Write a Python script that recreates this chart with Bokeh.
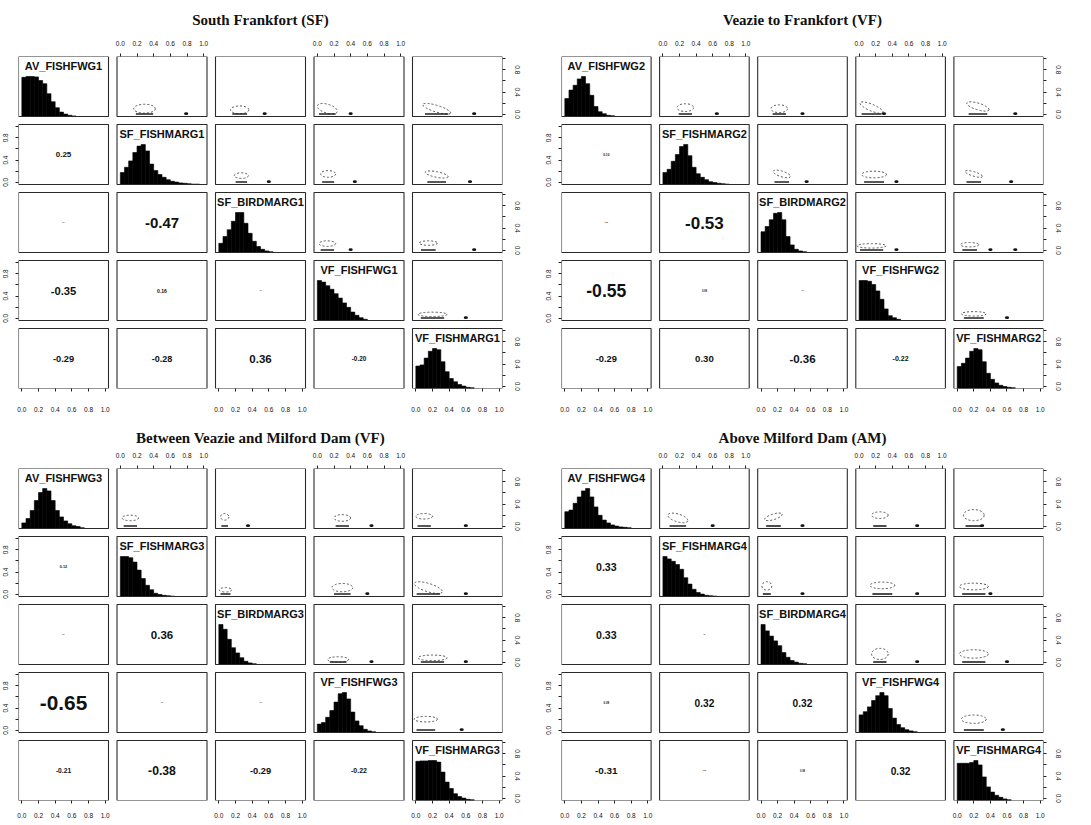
from bokeh.plotting import figure
from bokeh.models import FixedTicker, LinearAxis, Range1d, ColumnDataSource
from bokeh.layouts import column, row
from bokeh.embed import file_html
from bokeh.resources import INLINE
from bokeh.core.properties import value

# ---------------- data ----------------
TICK_VALUES = [0.0, 0.2, 0.4, 0.6, 0.8, 1.0]
TICK_LABELS = ["0.0", "0.2", "0.4", "0.6", "0.8", "1.0"]
# vertical axes: overlapping labels are dropped (as R does)
VTICK_LABELS = ["0.0", "", "0.4", "", "0.8", ""]
BIN_EDGES = [0.00, 0.05, 0.10, 0.15, 0.20, 0.25, 0.30, 0.35, 0.40, 0.45, 0.50,
             0.55, 0.60, 0.65, 0.70, 0.75, 0.80, 0.85, 0.90, 0.95, 1.00]

TITLES = ["South Frankfort (SF)", "Veazie to Frankfort (VF)",
          "Between Veazie and Milford Dam (VF)", "Above Milford Dam (AM)"]

M1_VARS = ["AV_FISHFWG1", "SF_FISHMARG1", "SF_BIRDMARG1", "VF_FISHFWG1", "VF_FISHMARG1"]
M2_VARS = ["AV_FISHFWG2", "SF_FISHMARG2", "SF_BIRDMARG2", "VF_FISHFWG2", "VF_FISHMARG2"]
M3_VARS = ["AV_FISHFWG3", "SF_FISHMARG3", "SF_BIRDMARG3", "VF_FISHFWG3", "VF_FISHMARG3"]
M4_VARS = ["AV_FISHFWG4", "SF_FISHMARG4", "SF_BIRDMARG4", "VF_FISHFWG4", "VF_FISHMARG4"]

# relative histogram heights (max = 1), 20 bins over 0..1
M1_HIST = [
    [0.98, 1.0, 1.0, 0.99, 0.90, 0.82, 0.57, 0.37, 0.22, 0.11, 0.06, 0.03, 0.015, 0, 0, 0, 0, 0, 0, 0],
    [0.30, 0.43, 0.59, 0.80, 0.96, 1.0, 0.84, 0.51, 0.35, 0.25, 0.18, 0.12, 0.08, 0.06, 0.04, 0.03, 0.02, 0.01, 0.01, 0],
    [0.23, 0.40, 0.57, 0.78, 1.0, 1.0, 0.73, 0.48, 0.28, 0.15, 0.08, 0.04, 0.02, 0, 0, 0, 0, 0, 0, 0],
    [1.0, 0.96, 0.87, 0.78, 0.67, 0.56, 0.44, 0.33, 0.21, 0.13, 0.07, 0.03, 0, 0, 0, 0, 0, 0, 0, 0],
    [0.56, 0.59, 0.76, 0.93, 1.0, 0.97, 0.67, 0.42, 0.25, 0.17, 0.10, 0.06, 0.03, 0.02, 0, 0, 0, 0, 0, 0],
]
M2_HIST = [
    [0.45, 0.66, 0.78, 0.94, 1.0, 0.82, 0.53, 0.25, 0.12, 0.07, 0.03, 0.02, 0, 0, 0, 0, 0, 0, 0, 0],
    [0.30, 0.38, 0.58, 0.75, 0.95, 1.0, 0.72, 0.43, 0.27, 0.18, 0.12, 0.07, 0.05, 0.03, 0.02, 0.01, 0, 0, 0, 0],
    [0.52, 0.65, 0.82, 0.98, 1.0, 0.82, 0.40, 0.19, 0.08, 0.04, 0.02, 0, 0, 0, 0, 0, 0, 0, 0, 0],
    [1.0, 1.0, 0.98, 0.90, 0.74, 0.53, 0.29, 0.12, 0.07, 0.03, 0, 0, 0, 0, 0, 0, 0, 0, 0, 0],
    [0.55, 0.63, 0.76, 0.93, 1.0, 0.97, 0.67, 0.38, 0.23, 0.14, 0.08, 0.05, 0.03, 0.02, 0, 0, 0, 0, 0, 0],
]
M3_HIST = [
    [0.14, 0.25, 0.45, 0.70, 0.90, 1.0, 0.94, 0.70, 0.45, 0.29, 0.19, 0.12, 0.07, 0.05, 0.02, 0, 0, 0, 0, 0],
    [1.0, 1.0, 0.97, 0.86, 0.66, 0.45, 0.28, 0.17, 0.08, 0.05, 0.03, 0.02, 0.01, 0, 0, 0, 0, 0, 0, 0],
    [1.0, 0.88, 0.63, 0.42, 0.29, 0.17, 0.08, 0.04, 0.02, 0, 0, 0, 0, 0, 0, 0, 0, 0, 0, 0],
    [0.21, 0.25, 0.38, 0.55, 0.76, 0.97, 1.0, 0.84, 0.51, 0.29, 0.17, 0.08, 0.04, 0.02, 0, 0, 0, 0, 0, 0],
    [0.98, 0.99, 0.99, 1.0, 1.0, 0.96, 0.71, 0.46, 0.30, 0.17, 0.10, 0.06, 0.03, 0.02, 0, 0, 0, 0, 0, 0],
]
M4_HIST = [
    [0.42, 0.46, 0.63, 0.79, 0.94, 1.0, 0.79, 0.54, 0.33, 0.21, 0.14, 0.09, 0.06, 0.04, 0.03, 0.02, 0, 0, 0, 0],
    [1.0, 0.94, 0.88, 0.80, 0.68, 0.47, 0.31, 0.18, 0.10, 0.06, 0.03, 0.02, 0.01, 0, 0, 0, 0, 0, 0, 0],
    [1.0, 0.84, 0.71, 0.59, 0.47, 0.30, 0.18, 0.10, 0.06, 0.03, 0.02, 0, 0, 0, 0, 0, 0, 0, 0, 0],
    [0.44, 0.52, 0.64, 0.80, 0.92, 1.0, 0.92, 0.60, 0.36, 0.20, 0.12, 0.07, 0.04, 0.02, 0, 0, 0, 0, 0, 0],
    [0.93, 0.93, 0.93, 0.95, 1.0, 0.89, 0.59, 0.34, 0.21, 0.13, 0.08, 0.04, 0.02, 0, 0, 0, 0, 0, 0, 0],
]

# correlations in lower panels: (row, col, r)
M1_CORR = [(1, 0, 0.25), (2, 0, 0.04), (2, 1, -0.47), (3, 0, -0.35), (3, 1, 0.16),
           (3, 2, 0.03), (4, 0, -0.29), (4, 1, -0.28), (4, 2, 0.36), (4, 3, -0.20)]
M2_CORR = [(1, 0, 0.10), (2, 0, 0.05), (2, 1, -0.53), (3, 0, -0.55), (3, 1, 0.08),
           (3, 2, 0.02), (4, 0, -0.29), (4, 1, 0.30), (4, 2, -0.36), (4, 3, -0.22)]
M3_CORR = [(1, 0, 0.12), (2, 0, 0.04), (2, 1, 0.36), (3, 0, -0.65), (3, 1, 0.02),
           (3, 2, 0.02), (4, 0, -0.21), (4, 1, -0.38), (4, 2, -0.29), (4, 3, -0.22)]
M4_CORR = [(1, 0, 0.33), (2, 0, 0.33), (2, 1, 0.02), (3, 0, 0.09), (3, 1, 0.32),
           (3, 2, 0.32), (4, 0, -0.31), (4, 1, 0.05), (4, 2, 0.08), (4, 3, 0.32)]

# density contours in upper panels: (row, col, cx, cy, w, h, angle)
M1_CONT = [(0, 1, 0.29, 0.10, 0.26, 0.16, 0), (0, 2, 0.25, 0.08, 0.22, 0.14, 0),
           (0, 3, 0.12, 0.10, 0.25, 0.16, -0.3), (0, 4, 0.25, 0.10, 0.35, 0.12, -0.3),
           (1, 2, 0.27, 0.12, 0.17, 0.10, 0), (1, 3, 0.13, 0.15, 0.18, 0.12, 0),
           (1, 4, 0.25, 0.14, 0.28, 0.10, -0.2), (2, 3, 0.12, 0.12, 0.20, 0.10, 0),
           (2, 4, 0.15, 0.13, 0.22, 0.08, 0), (3, 4, 0.20, 0.07, 0.35, 0.08, 0)]
M2_CONT = [(0, 1, 0.27, 0.12, 0.20, 0.14, 0), (0, 2, 0.22, 0.10, 0.20, 0.14, 0),
           (0, 3, 0.15, 0.12, 0.30, 0.12, -0.4), (0, 4, 0.25, 0.14, 0.28, 0.12, -0.3),
           (1, 2, 0.25, 0.15, 0.22, 0.10, -0.3), (1, 3, 0.18, 0.14, 0.30, 0.12, 0),
           (1, 4, 0.20, 0.15, 0.22, 0.08, -0.3), (2, 3, 0.15, 0.08, 0.35, 0.08, 0),
           (2, 4, 0.15, 0.10, 0.22, 0.08, 0), (3, 4, 0.20, 0.08, 0.30, 0.08, 0)]
M3_CONT = [(0, 1, 0.12, 0.15, 0.20, 0.10, 0), (0, 2, 0.07, 0.17, 0.10, 0.12, 0),
           (0, 3, 0.30, 0.15, 0.20, 0.12, 0), (0, 4, 0.10, 0.18, 0.20, 0.10, 0),
           (1, 2, 0.08, 0.08, 0.15, 0.08, 0), (1, 3, 0.30, 0.12, 0.25, 0.15, 0),
           (1, 4, 0.15, 0.12, 0.35, 0.15, -0.3), (2, 3, 0.25, 0.05, 0.25, 0.10, 0),
           (2, 4, 0.20, 0.08, 0.35, 0.10, 0), (3, 4, 0.12, 0.20, 0.28, 0.10, 0)]
M4_CONT = [(0, 1, 0.18, 0.15, 0.25, 0.14, -0.3), (0, 2, 0.15, 0.17, 0.22, 0.10, 0.3),
           (0, 3, 0.25, 0.20, 0.20, 0.12, 0), (0, 4, 0.20, 0.20, 0.25, 0.20, 0),
           (1, 2, 0.07, 0.15, 0.12, 0.15, 0), (1, 3, 0.28, 0.16, 0.30, 0.12, 0),
           (1, 4, 0.20, 0.14, 0.35, 0.12, 0), (2, 3, 0.25, 0.15, 0.20, 0.20, 0),
           (2, 4, 0.20, 0.15, 0.35, 0.15, 0), (3, 4, 0.20, 0.20, 0.30, 0.15, 0)]

# dark point clusters on the bottom of upper panels: (row, col, x)
M1_BLOB = [(0, 1, 0.79), (0, 2, 0.55), (0, 3, 0.40), (0, 4, 0.70), (1, 2, 0.60),
           (1, 3, 0.45), (1, 4, 0.65), (2, 3, 0.40), (2, 4, 0.70), (3, 4, 0.60)]
M2_BLOB = [(0, 1, 0.65), (0, 2, 0.50), (0, 3, 0.30), (0, 4, 0.70), (1, 2, 0.55),
           (1, 3, 0.45), (1, 4, 0.65), (2, 3, 0.45), (2, 4, 0.40), (2, 4, 0.70), (3, 4, 0.60)]
M3_BLOB = [(0, 2, 0.35), (0, 3, 0.65), (0, 4, 0.60), (1, 3, 0.60), (1, 4, 0.60),
           (2, 3, 0.65), (2, 4, 0.60), (3, 4, 0.55)]
M4_BLOB = [(0, 1, 0.60), (0, 2, 0.50), (0, 3, 0.70), (0, 4, 0.30), (1, 2, 0.50),
           (1, 3, 0.70), (1, 4, 0.40), (2, 3, 0.70), (2, 4, 0.60), (3, 4, 0.55)]

# ---------------- layout constants ----------------
PAD = 0.04
SPAN = 1.0 + 2 * PAD
GAP_X_PX = 8.5
GAP_Y_PX = 8.0
FRAME_H = 332
SANS = "Liberation Sans"
SERIF = "Liberation Serif"


def make_axis(positions, labels, vertical, standoff):
    pos = [round(v, 6) for v in positions]
    labs = labels * (len(pos) // len(labels))
    ax = LinearAxis(ticker=FixedTicker(ticks=pos),
                    major_label_overrides=dict(zip(pos, labs)))
    ax.axis_line_color = None
    ax.major_tick_in = 0
    ax.major_tick_out = 3
    ax.major_tick_line_color = "#222222"
    ax.minor_tick_line_color = None
    ax.major_label_text_font = SANS
    ax.major_label_text_font_size = "6.5px"
    ax.major_label_text_color = "#111111"
    ax.major_label_standoff = standoff
    if vertical:
        ax.major_label_orientation = "vertical"
    return ax


def build(title, names, hists, corrs, conts, blobs, frame_w, b_left, b_right,
          b_top, b_bottom, title_standoff, bottom_standoff):
    panel_w_px = (frame_w - 4 * GAP_X_PX) / 5
    sx = panel_w_px / SPAN
    PX = (panel_w_px + GAP_X_PX) / sx
    panel_h_px = (FRAME_H - 4 * GAP_Y_PX) / 5
    sy = panel_h_px / SPAN
    PY = (panel_h_px + GAP_Y_PX) / sy

    def xo(j):
        return j * PX

    def yo(i):
        return (4 - i) * PY

    p = figure(x_range=Range1d(-PAD, 4 * PX + 1 + PAD),
               y_range=Range1d(-PAD, 4 * PY + 1 + PAD),
               frame_width=frame_w, frame_height=FRAME_H,
               min_border_left=b_left, min_border_right=b_right,
               min_border_top=b_top, min_border_bottom=b_bottom,
               x_axis_location=None, y_axis_location=None,
               toolbar_location=None, output_backend="svg", title=title)
    p.grid.visible = False
    p.outline_line_color = None
    p.background_fill_color = "white"
    p.border_fill_color = "white"
    p.title.text_font = SERIF
    p.title.text_font_style = "bold"
    p.title.text_font_size = "15px"
    p.title.align = "center"
    p.title.text_color = "#111111"
    p.title.standoff = title_standoff

    # histogram bars on the diagonal
    L, R, B, T = [], [], [], []
    for k in range(5):
        for b, h in enumerate(hists[k]):
            if h > 0:
                L.append(xo(k) + BIN_EDGES[b])
                R.append(xo(k) + BIN_EDGES[b + 1])
                B.append(yo(k) - PAD)
                T.append(yo(k) - PAD + h / 1.5 * SPAN)
    p.quad(left=L, right=R, bottom=B, top=T, fill_color="black",
           line_color="black", line_width=0.6)

    # density contours and point clusters in upper panels
    cs = dict(x=[xo(c[1]) + c[2] for c in conts], y=[yo(c[0]) + c[3] for c in conts],
              w=[c[4] for c in conts], h=[c[5] for c in conts], a=[c[6] for c in conts])
    p.ellipse(x="x", y="y", width="w", height="h", angle="a", source=ColumnDataSource(cs),
              fill_color=None, line_color="#555555", line_dash="2 2", line_width=1)
    p.segment(x0=[xo(c[1]) + c[2] - c[4] / 2.5 for c in conts],
              y0=[yo(c[0]) + 0.005 for c in conts],
              x1=[xo(c[1]) + c[2] + c[4] / 2.5 for c in conts],
              y1=[yo(c[0]) + 0.005 for c in conts],
              line_color="#222222", line_width=1.6)
    p.ellipse(x=[xo(b[1]) + b[2] for b in blobs], y=[yo(b[0]) + 0.01 for b in blobs],
              width=0.05, height=0.05, fill_color="#111111", line_color=None)

    # panel frames
    cells = [(i, j) for i in range(5) for j in range(5)]
    p.quad(left=[xo(j) - PAD for i, j in cells], right=[xo(j) + 1 + PAD for i, j in cells],
           bottom=[yo(i) - PAD for i, j in cells], top=[yo(i) + 1 + PAD for i, j in cells],
           fill_color=None, line_color="#2a2a2a", line_width=1.1)

    # variable names on the diagonal
    p.text(x=[xo(k) + 0.5 for k in range(5)],
           y=[yo(k) + 1 + PAD - 9.5 / sy for k in range(5)],
           text=names, text_align="center", text_baseline="middle",
           text_font=value(SANS), text_font_style="bold", text_font_size="11px",
           text_color="#111111")

    # correlation coefficients
    ct = dict(x=[xo(c[1]) + 0.5 for c in corrs], y=[yo(c[0]) + 0.5 for c in corrs],
              t=["%.2f" % c[2] for c in corrs],
              fs=["%.1fpx" % max(32 * abs(c[2]), 1.0) for c in corrs])
    p.text(x="x", y="y", text="t", text_font_size="fs", source=ColumnDataSource(ct),
           text_align="center", text_baseline="middle", text_font=value(SANS),
           text_font_style="bold", text_color="#111111")

    # R-pairs style alternating axes
    p.add_layout(make_axis([xo(j) + v for j in (0, 2, 4) for v in TICK_VALUES],
                           TICK_LABELS, False, bottom_standoff), "below")
    p.add_layout(make_axis([xo(j) + v for j in (1, 3) for v in TICK_VALUES],
                           TICK_LABELS, False, 8), "above")
    p.add_layout(make_axis([yo(i) + v for i in (1, 3) for v in TICK_VALUES],
                           VTICK_LABELS, True, 7), "left")
    p.add_layout(make_axis([yo(i) + v for i in (0, 2, 4) for v in TICK_VALUES],
                           VTICK_LABELS, True, 9), "right")
    return p


p1 = build(TITLES[0], M1_VARS, M1_HIST, M1_CORR, M1_CONT, M1_BLOB, 484, 18, 35, 52, 28, 19, 15)
p2 = build(TITLES[1], M2_VARS, M2_HIST, M2_CORR, M2_CONT, M2_BLOB, 482, 24, 32, 52, 28, 19, 15)
p3 = build(TITLES[2], M3_VARS, M3_HIST, M3_CORR, M3_CONT, M3_BLOB, 484, 18, 35, 52, 21, 7, 9)
p4 = build(TITLES[3], M4_VARS, M4_HIST, M4_CORR, M4_CONT, M4_BLOB, 482, 24, 32, 52, 21, 7, 9)

layout = column(row(p1, p2), row(p3, p4))
open("out.html", "w").write(file_html(layout, INLINE))
